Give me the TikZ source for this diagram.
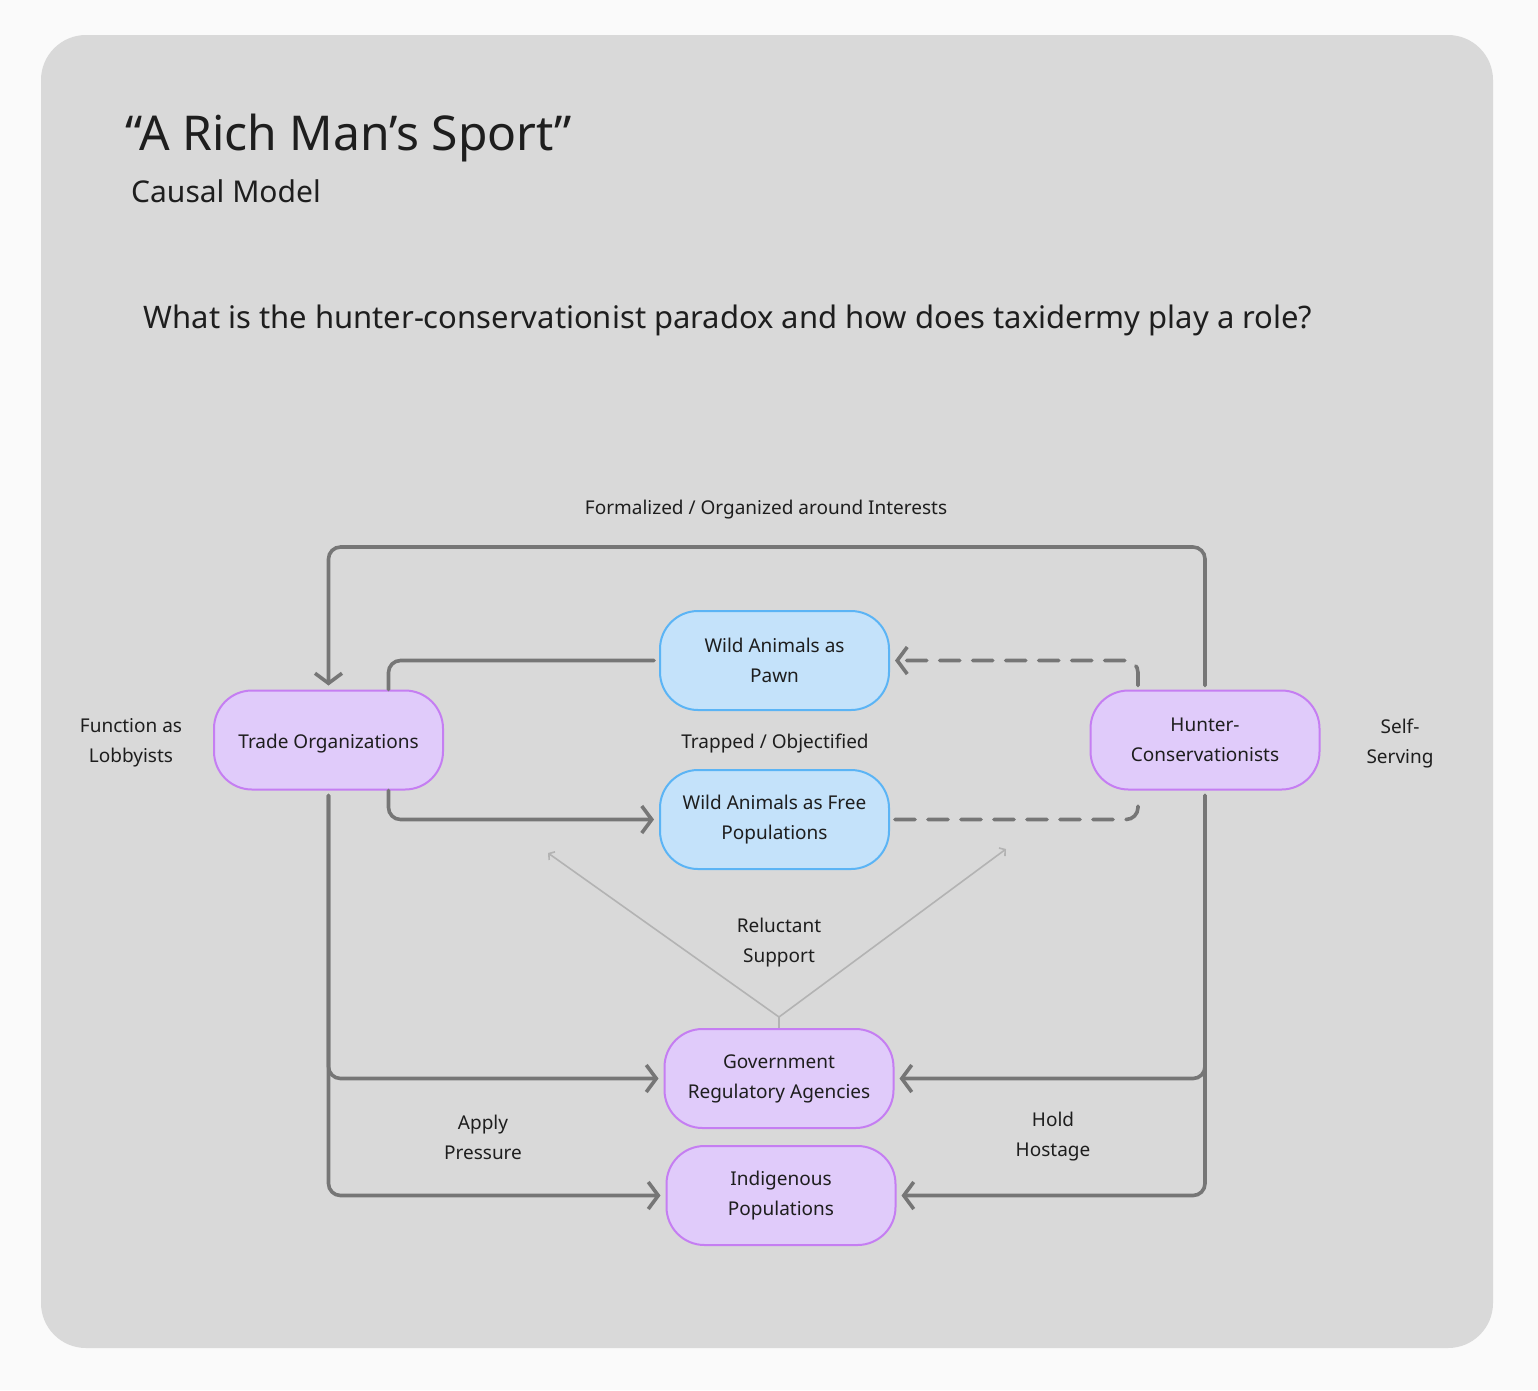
\documentclass[tikz,border=0pt]{standalone}
\usepackage{fontspec}
\setmainfont{Noto Sans}
\usetikzlibrary{arrows.meta,calc}
\definecolor{page}{HTML}{FAFAFA}
\definecolor{panel}{HTML}{D9D9D9}
\definecolor{purfill}{HTML}{E0CBFA}
\definecolor{purline}{HTML}{C57EF2}
\definecolor{bluefill}{HTML}{C4E2FA}
\definecolor{blueline}{HTML}{5BB4F5}
\definecolor{conncol}{HTML}{767676}
\definecolor{lightcol}{HTML}{B3B3B3}
\definecolor{txt}{HTML}{1E1E1E}
\tikzset{
  box/.style={draw, line width=2pt, rounded corners=38pt, minimum width=229pt, minimum height=99pt,
    align=center, text=txt, font=\fontsize{19}{30}\selectfont, inner sep=0pt,
    execute at begin node={\rule{0pt}{21.5pt}}},
  purbox/.style={box, fill=purfill, draw=purline},
  bluebox/.style={box, fill=bluefill, draw=blueline},
  conn/.style={draw=conncol, line width=3.6pt, rounded corners=12pt, line cap=round},
  arr/.style={-{Straight Barb[length=10pt,width=27pt,line width=3.6pt]}},
  dsh/.style={dash pattern=on 20pt off 13pt},
  lightconn/.style={draw=lightcol, line width=1.6pt, -{Straight Barb[length=4pt,width=10pt,line width=1.6pt]}},
  lbl/.style={align=center, text=txt, font=\fontsize{19}{30}\selectfont, inner sep=0pt}
}
\begin{document}
\begin{tikzpicture}[x=1pt,y=-1pt]
\useasboundingbox (0,0) rectangle (1538,1390);
\fill[page] (0,0) rectangle (1538,1390);
\fill[panel, rounded corners=45pt] (41,35) rectangle (1493,1348);

\node[anchor=base west, inner sep=0pt, text=txt, font=\fontsize{48}{56}\selectfont] (title) at (125,150) {“A Rich Man’s Sport”};
\node[anchor=base west, inner sep=0pt, text=txt, font=\fontsize{30}{36}\selectfont] (sub) at (131,202) {Causal Model};
\node[anchor=base, inner sep=0pt, text=txt, font=\fontsize{31}{36}\selectfont] (question) at (728,328) {What is the hunter-conservationist paradox and how does taxidermy play a role?};

\node[purbox] (trade) at (328.5,740) {Trade Organizations};
\node[purbox] (hunter) at (1205,740) {Hunter-\\Conservationists};
\node[bluebox] (pawn) at (774.5,660.5) {Wild Animals as\\Pawn};
\node[bluebox] (free) at (774.5,819.5) {Wild Animals as Free\\Populations};
\node[purbox] (gov) at (779,1078.5) {Government\\Regulatory Agencies};
\node[purbox] (indig) at (781,1195.5) {Indigenous\\Populations};

\coordinate (topline) at (0,547);
\coordinate (tA) at ([xshift=60pt]trade.north);
\coordinate (tB) at ([xshift=60pt]trade.south);
\coordinate (hA) at ([xshift=-67pt,yshift=4pt]hunter.north);
\coordinate (hB) at ([xshift=-67pt,yshift=-5pt]hunter.south);
\coordinate (gv) at ([yshift=11pt]gov.north);
\coordinate (rl) at (548,853);
\coordinate (rr) at (1006,849);

% top loop
\draw[conn,arr] ([yshift=4pt]hunter.north) -- (hunter.north |- topline) -- (trade.north |- topline) -- ([yshift=4pt]trade.north);
% pawn to trade
\draw[conn] ([xshift=-5pt]pawn.west) -- (tA |- pawn.west) -- (tA);
% trade to free
\draw[conn,arr] (tB) -- (tB |- free.west) -- ([xshift=-5pt]free.west);
% dashed hunter
\draw[conn,dsh,arr] (hA) -- (hA |- pawn.east) -- ([xshift=5pt]pawn.east);
\draw[conn,dsh] ([xshift=5pt]free.east) -- (hB |- free.east) -- (hB);
% trade down
\draw[conn,arr] ([yshift=-5pt]trade.south) -- (trade.south |- indig.west) -- ([xshift=-5pt]indig.west);
\draw[conn,arr] ([yshift=-5pt]trade.south) -- (trade.south |- gov.west) -- ([xshift=-5pt]gov.west);
% hunter down
\draw[conn,arr] ([yshift=-5pt]hunter.south) -- (hunter.south |- indig.east) -- ([xshift=5pt]indig.east);
\draw[conn,arr] ([yshift=-5pt]hunter.south) -- (hunter.south |- gov.east) -- ([xshift=5pt]gov.east);
% reluctant support
\draw[draw=lightcol, line width=1.6pt] (gov.north) -- (gv);
\draw[lightconn] (gv) -- (rl);
\draw[lightconn] (gv) -- (rr);

% labels
\node[lbl] (l1) at (766,510) {Formalized / Organized around Interests};
\node[lbl] (l2) at (131,743) {Function as\\Lobbyists};
\node[lbl] (l3) at (1400,743) {Self-\\Serving};
\node[lbl] (l4) at (775,743) {Trapped / Objectified};
\node[lbl] (l5) at (779,943) {Reluctant\\Support};
\node[lbl] (l6) at (483,1137) {Apply\\Pressure};
\node[lbl] (l7) at (1053,1137) {Hold\\Hostage};
\end{tikzpicture}
\end{document}
